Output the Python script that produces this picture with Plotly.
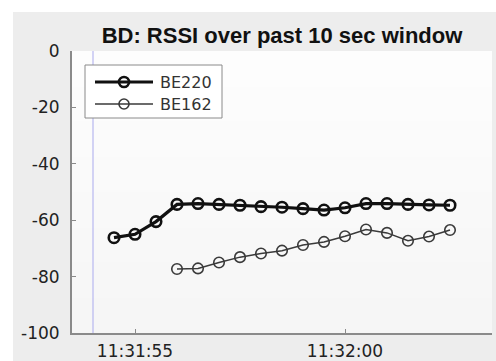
import plotly.graph_objects as go

title_text = "BD: RSSI over past 10 sec window"

be220_times = [
    "2024-01-01 11:31:54.5", "2024-01-01 11:31:55.0", "2024-01-01 11:31:55.5",
    "2024-01-01 11:31:56.0", "2024-01-01 11:31:56.5", "2024-01-01 11:31:57.0",
    "2024-01-01 11:31:57.5", "2024-01-01 11:31:58.0", "2024-01-01 11:31:58.5",
    "2024-01-01 11:31:59.0", "2024-01-01 11:31:59.5", "2024-01-01 11:32:00.0",
    "2024-01-01 11:32:00.5", "2024-01-01 11:32:01.0", "2024-01-01 11:32:01.5",
    "2024-01-01 11:32:02.0", "2024-01-01 11:32:02.5",
]
be220_rssi = [-66.2, -65.0, -60.5, -54.4, -54.1, -54.4, -54.7, -55.2, -55.4,
              -55.9, -56.4, -55.6, -54.1, -54.1, -54.4, -54.6, -54.7]

be162_times = [
    "2024-01-01 11:31:56.0", "2024-01-01 11:31:56.5", "2024-01-01 11:31:57.0",
    "2024-01-01 11:31:57.5", "2024-01-01 11:31:58.0", "2024-01-01 11:31:58.5",
    "2024-01-01 11:31:59.0", "2024-01-01 11:31:59.5", "2024-01-01 11:32:00.0",
    "2024-01-01 11:32:00.5", "2024-01-01 11:32:01.0", "2024-01-01 11:32:01.5",
    "2024-01-01 11:32:02.0", "2024-01-01 11:32:02.5",
]
be162_rssi = [-77.3, -77.1, -75.0, -73.1, -71.8, -70.8, -68.8, -67.7, -65.7,
              -63.3, -64.5, -67.3, -65.8, -63.5]

series_names = ["BE220", "BE162"]

x_range = ["2024-01-01 11:31:53.5", "2024-01-01 11:32:03.5"]
x_tickvals = ["2024-01-01 11:31:55", "2024-01-01 11:32:00"]
x_ticktext = ["11:31:55", "11:32:00"]
y_range = [-100, 0]
y_tickvals = [-100, -80, -60, -40, -20, 0]
y_ticktext = ["-100", "-80", "-60", "-40", "-20", "0"]
cursor_time = "2024-01-01 11:31:54"

FONT = "Liberation Sans, Arial, Helvetica, sans-serif"
TICKFONT = "DejaVu Sans, Verdana, sans-serif"

styles = [
    dict(color="#111111", lw=3.2, mw=2.6),
    dict(color="#3a3a3a", lw=1.5, mw=1.6),
]

fig = go.Figure()
for name, xs, ys, st in zip(series_names, [be220_times, be162_times],
                            [be220_rssi, be162_rssi], styles):
    fig.add_trace(go.Scatter(
        x=xs, y=ys, name=name, mode="lines+markers", showlegend=False,
        line=dict(color=st["color"], width=st["lw"]),
        marker=dict(symbol="circle-open", size=10.5, color=st["color"],
                    line=dict(width=st["mw"], color=st["color"])),
    ))

# geometry in pixels
W, H = 496, 361
L, R, T, B = 72, 4, 51, 28
pw, ph = W - L - R, H - T - B
def px_x(p):
    return (p - L) / pw
def px_y(p):
    return (H - B - p) / ph

shapes = [
    dict(type="rect", xref="paper", yref="paper", layer="below",
         x0=px_x(13), x1=px_x(W + 2), y0=px_y(H + 2), y1=px_y(12),
         fillcolor="#ededed", line=dict(width=0)),
]
# subtle vertical gradient in plot area
grad = ["#f6f6f6", "#f7f7f7", "#f8f8f8", "#f9f9f9", "#fafafa", "#fbfbfb",
        "#fcfcfc", "#fdfdfd"]
for i, c in enumerate(grad):
    shapes.append(dict(type="rect", xref="paper", yref="paper", layer="below",
                       x0=0, x1=1, y0=i / len(grad), y1=1,
                       fillcolor=c, line=dict(width=0)))
shapes.append(dict(type="line", xref="x", yref="paper", layer="below",
                   x0=cursor_time, x1=cursor_time, y0=0, y1=1,
                   line=dict(color="#b8b8f0", width=1.2)))

# manual legend (longer line samples, as in the reference)
annotations = []
leg_x0, leg_x1, leg_y0, leg_y1 = 85, 222, 65, 118
shapes.append(dict(type="rect", xref="paper", yref="paper", layer="above",
                   x0=px_x(leg_x0), x1=px_x(leg_x1), y0=px_y(leg_y1),
                   y1=px_y(leg_y0), fillcolor="#ffffff",
                   line=dict(color="#8a8a8a", width=1)))
for name, st, yy in zip(series_names, styles, [82, 104]):
    shapes.append(dict(type="line", xref="paper", yref="paper", layer="above",
                       x0=px_x(95), x1=px_x(153), y0=px_y(yy), y1=px_y(yy),
                       line=dict(color=st["color"], width=st["lw"])))
    shapes.append(dict(type="circle", xref="paper", yref="paper",
                       layer="above", x0=px_x(119), x1=px_x(129),
                       y0=px_y(yy + 5), y1=px_y(yy - 5),
                       line=dict(color=st["color"], width=st["mw"])))
    annotations.append(dict(text=name, xref="paper", yref="paper",
                            x=px_x(158), y=px_y(yy), xanchor="left",
                            yanchor="middle", showarrow=False,
                            font=dict(size=16, color="#333333",
                                      family=TICKFONT)))

fig.update_layout(
    width=W, height=H,
    margin=dict(l=L, r=R, t=T, b=B, pad=0),
    paper_bgcolor="#ffffff",
    plot_bgcolor="rgba(0,0,0,0)",
    font=dict(family=FONT, size=17, color="#222222"),
    title=dict(text="<b>" + title_text + "</b>", x=0.5, xref="paper",
               xanchor="center", y=1 - 35 / H, yanchor="middle",
               font=dict(size=22, color="#111111", family=FONT)),
    shapes=shapes,
    annotations=annotations,
    showlegend=False,
    xaxis=dict(type="date", range=x_range, tickvals=x_tickvals,
               ticktext=x_ticktext, showgrid=False, zeroline=False,
               showline=True, linecolor="#8a8a8a", linewidth=2,
               ticks="inside", ticklen=4, tickcolor="#8a8a8a",
               automargin=False, ticklabelstandoff=2,
               tickfont=dict(size=17, color="#222222", family=TICKFONT)),
    yaxis=dict(range=y_range, tickvals=y_tickvals, ticktext=y_ticktext,
               showgrid=False, zeroline=False, showline=True,
               linecolor="#8a8a8a", linewidth=2, ticks="inside", ticklen=4,
               tickcolor="#8a8a8a", ticklabelstandoff=7, automargin=False,
               tickfont=dict(size=17, color="#222222", family=TICKFONT)),
)

fig.write_html("out.html",
               config={"displayModeBar": False},
               post_script="document.body.style.margin='0';"
                           "document.body.style.overflow='hidden';")
